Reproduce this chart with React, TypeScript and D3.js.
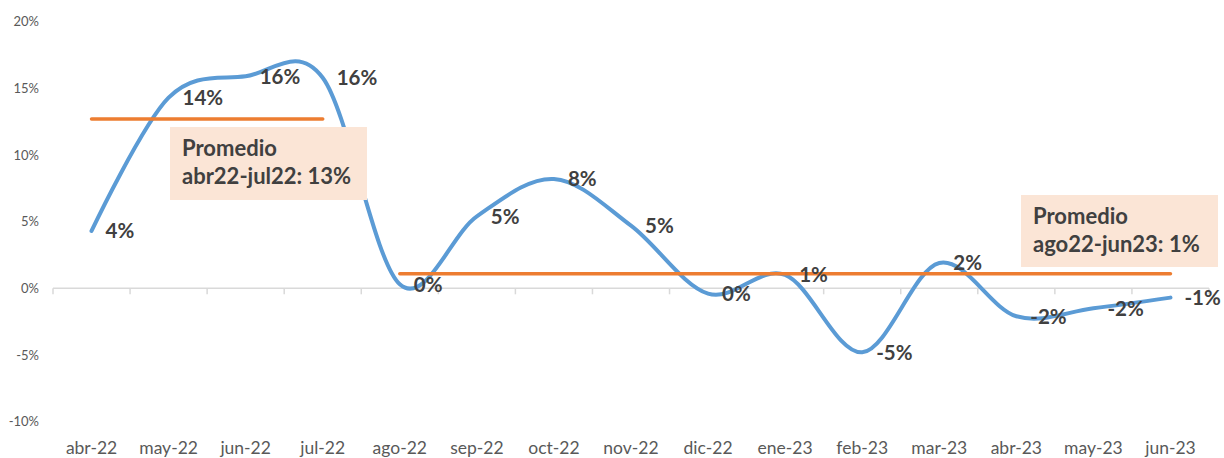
import React from "react";
import * as d3 from "d3";

const months = [
  "abr-22", "may-22", "jun-22", "jul-22", "ago-22", "sep-22", "oct-22", "nov-22",
  "dic-22", "ene-23", "feb-23", "mar-23", "abr-23", "may-23", "jun-23"
];
const values = [4.3, 14.3, 15.9, 15.8, 0.3, 5.4, 8.2, 4.7, -0.4, 1.0, -4.8, 1.9, -2.1, -1.5, -0.7];
const valueLabels = ["4%", "14%", "16%", "16%", "0%", "5%", "8%", "5%", "0%", "1%", "-5%", "2%", "-2%", "-2%", "-1%"];
const yTicks = [-10, -5, 0, 5, 10, 15, 20];

// promedios por periodo
const averages = [
  { from: "abr-22", to: "jul-22", value: 12.7, lines: ["Promedio", "abr22-jul22: 13%"] },
  { from: "ago-22", to: "jun-23", value: 1.1, lines: ["Promedio", "ago22-jun23: 1%"] }
];
// cajas de texto (posición de anotación)
const boxes = [
  { x: 170, y: 127, w: 197, h: 73 },
  { x: 1021, y: 195, w: 197, h: 72 }
];

const width = 1224;
const height = 458;
const font = "Lato, 'Open Sans', sans-serif";

export default function App() {
  const x = d3.scaleBand<string>().domain(months).range([53, 1209]).paddingInner(0);
  const cx = (m: string) => (x(m) as number) + x.bandwidth() / 2;
  const y = d3.scaleLinear().domain([-10, 20]).range([421.6, 21.7]);

  const line = d3
    .line<number>()
    .x((_, i) => cx(months[i]))
    .y((d) => y(d))
    .curve(d3.curveCardinal.tension(0));

  return (
    <svg
      width={width}
      height={height}
      style={{ position: "absolute", left: 0, top: 0, background: "#fff" }}
      fontFamily={font}
    >
      {/* eje Y */}
      {yTicks.map((t) => (
        <text key={t} x={39} y={y(t)} dy="0.35em" textAnchor="end" fontSize={13} fill="#595959">
          {t}%
        </text>
      ))}

      {/* eje X en 0 */}
      <line x1={53} x2={1209} y1={y(0)} y2={y(0)} stroke="#d9d9d9" strokeWidth={1.5} />
      {months.map((m) => (
        <line key={m} x1={x(m)} x2={x(m)} y1={y(0)} y2={y(0) + 6} stroke="#d9d9d9" strokeWidth={1.5} />
      ))}
      <line x1={1209} x2={1209} y1={y(0)} y2={y(0) + 6} stroke="#d9d9d9" strokeWidth={1.5} />
      {months.map((m) => (
        <text key={m} x={cx(m)} y={454} textAnchor="middle" fontSize={17.5} fill="#595959">
          {m}
        </text>
      ))}

      {/* serie */}
      <path d={line(values) || ""} fill="none" stroke="#5b9bd5" strokeWidth={4} strokeLinecap="round" />

      {/* promedios */}
      {averages.map((a) => (
        <line
          key={a.from}
          x1={cx(a.from)}
          x2={cx(a.to)}
          y1={y(a.value)}
          y2={y(a.value)}
          stroke="#ed7d31"
          strokeWidth={3.5}
          strokeLinecap="round"
        />
      ))}

      {/* etiquetas de datos */}
      {values.map((v, i) => (
        <text
          key={i}
          x={cx(months[i]) + 14}
          y={y(v)}
          dy="0.36em"
          fontSize={20.5}
          fontWeight="bold"
          fill="#404040"
        >
          {valueLabels[i]}
        </text>
      ))}

      {/* cajas de promedio */}
      {averages.map((a, i) => (
        <g key={a.to}>
          <rect x={boxes[i].x} y={boxes[i].y} width={boxes[i].w} height={boxes[i].h} fill="#fbe5d6" />
          {a.lines.map((l, j) => (
            <text
              key={j}
              x={boxes[i].x + 12}
              y={boxes[i].y + 29 + j * 28}
              fontSize={22}
              fontWeight="bold"
              fill="#404040"
            >
              {l}
            </text>
          ))}
        </g>
      ))}
    </svg>
  );
}
